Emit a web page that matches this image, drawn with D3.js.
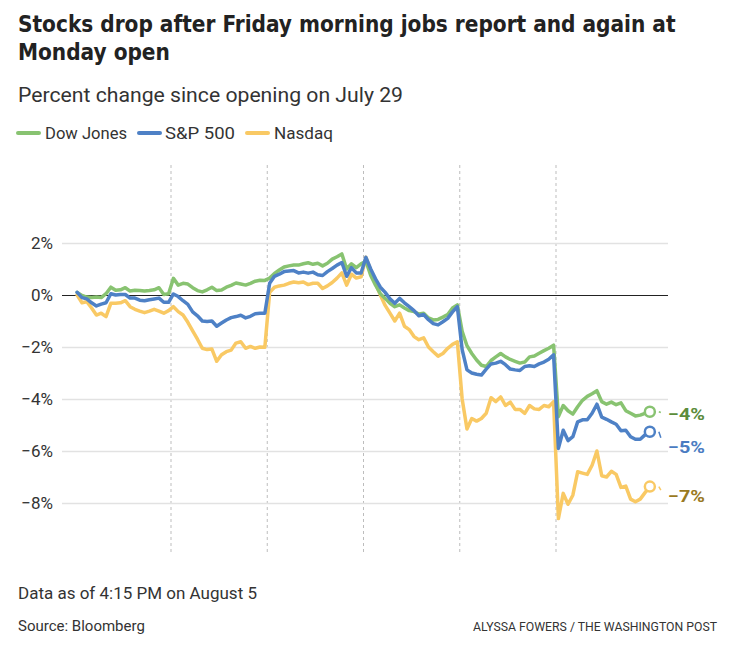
<!DOCTYPE html>
<html>
<head>
<meta charset="utf-8">
<script src="https://cdn.jsdelivr.net/npm/d3@7"></script>
<style>
  html, body { margin: 0; padding: 0; background: #fff; }
  svg { display: block; }
  text { font-family: Roboto, "Noto Sans", sans-serif; }
</style>
</head>
<body>
<svg id="chart" width="743" height="646"></svg>
<script>
// ---------------- data ----------------
const days = ["Jul 29", "Jul 30", "Jul 31", "Aug 1", "Aug 2", "Aug 5"];
const samplesPerDay = 20;

const dow = [
  0.1, -0.02, -0.08, -0.1, -0.08, -0.1, 0.05, 0.3, 0.18, 0.2, 0.28, 0.15, 0.18, 0.17, 0.15, 0.17, 0.2, 0.28, 0.02, 0.05,
  0.64, 0.38, 0.45, 0.42, 0.28, 0.17, 0.12, 0.2, 0.3, 0.17, 0.19, 0.3, 0.37, 0.46, 0.42, 0.38, 0.45, 0.53, 0.57, 0.56,
  0.65, 0.83, 0.96, 1.08, 1.12, 1.15, 1.15, 1.2, 1.24, 1.18, 1.22, 1.12, 1.22, 1.38, 1.47, 1.58, 1.0, 1.2, 1.05, 1.2,
  1.3, 0.75, 0.38, 0.05, -0.13, -0.32, -0.45, -0.38, -0.5, -0.6, -0.64, -0.73, -0.7, -0.88, -0.96, -0.94, -0.85, -0.75, -0.5, -0.38,
  -1.4, -1.95, -2.25, -2.5, -2.7, -2.75, -2.52, -2.38, -2.25, -2.38, -2.48, -2.55, -2.62, -2.58, -2.38, -2.35, -2.24, -2.14, -2.05, -1.93,
  -4.68, -4.25, -4.45, -4.58, -4.3, -4.05, -3.9, -3.8, -3.68, -4.1, -4.2, -4.12, -4.22, -4.15, -4.45, -4.55, -4.65, -4.62, -4.55, -4.49
];
const sp500 = [
  0.1, -0.1, -0.15, -0.3, -0.42, -0.35, -0.3, 0.05, 0.0, 0.02, 0.02, -0.12, -0.12, -0.2, -0.22, -0.18, -0.15, -0.12, -0.28, -0.28,
  0.04, -0.06, -0.22, -0.36, -0.65, -0.8, -1.0, -1.02, -1.0, -1.2, -1.08, -0.96, -0.87, -0.83, -0.78, -0.88, -0.82, -0.72, -0.7, -0.7,
  0.45, 0.72, 0.8, 0.9, 0.92, 0.94, 0.85, 0.88, 0.84, 0.88, 0.78, 0.75, 0.9, 1.02, 1.15, 1.25, 0.72, 1.05, 0.85, 0.85,
  1.45, 1.0, 0.62, 0.3, 0.1, -0.15, -0.32, -0.13, -0.3, -0.45, -0.6, -0.8, -0.75, -0.95, -1.1, -1.15, -1.03, -0.9, -0.65, -0.45,
  -2.1, -2.88, -3.0, -3.05, -3.08, -2.85, -2.65, -2.62, -2.55, -2.68, -2.85, -2.88, -2.9, -2.75, -2.72, -2.75, -2.65, -2.58, -2.47, -2.3,
  -5.9, -5.2, -5.6, -5.45, -4.88, -4.8, -4.8, -4.55, -4.2, -4.7, -4.78, -4.88, -4.97, -5.22, -5.2, -5.45, -5.55, -5.55, -5.38, -5.26
];
const nasdaq = [
  0.0, -0.3, -0.26, -0.5, -0.77, -0.7, -0.83, -0.32, -0.32, -0.3, -0.22, -0.45, -0.55, -0.62, -0.68, -0.62, -0.55, -0.62, -0.7, -0.6,
  -0.45, -0.64, -0.77, -1.05, -1.38, -1.7, -2.05, -2.1, -2.08, -2.55, -2.3, -2.18, -2.12, -1.85, -1.8, -2.05, -1.98, -2.05, -2.0, -2.01,
  0.1, 0.3, 0.35, 0.38, 0.45, 0.5, 0.47, 0.5, 0.4, 0.45, 0.45, 0.25, 0.35, 0.48, 0.65, 0.85, 0.38, 0.8, 0.65, 0.7,
  1.45, 0.95, 0.45, 0.0, -0.4, -0.7, -1.0, -0.7, -1.2, -1.33, -1.6, -1.72, -1.65, -2.0, -2.18, -2.35, -2.25, -2.05, -1.9, -1.8,
  -4.0, -5.15, -4.75, -4.85, -4.75, -4.55, -3.95, -4.1, -3.92, -4.25, -4.12, -4.4, -4.4, -4.55, -4.25, -4.38, -4.4, -4.25, -4.3, -4.1,
  -8.6, -7.63, -8.05, -7.7, -6.8, -6.85, -6.9, -6.55, -6.0, -6.95, -7.0, -6.78, -6.9, -7.4, -7.35, -7.85, -7.95, -7.85, -7.6, -7.37
];

const seriesNames = ["Dow Jones", "S&P 500", "Nasdaq"];
const endLabels = ["−4%", "−5%", "−7%"];
const yTicks = [2, 0, -2, -4, -6, -8];

// ---------------- styles ----------------
const lineColors = ["#88c371", "#4e81c6", "#f9c964"];
const labelColors = ["#5b8c3b", "#4a7cc2", "#9a7a1f"];
const labelOffsets = [2, 15, 9];

const svg = d3.select("#chart");

function fit(sel, w) {
  sel.each(function () {
    const cur = this.getComputedTextLength();
    if (Math.abs(cur - w) / w > 0.02) {
      d3.select(this).attr("textLength", w).attr("lengthAdjust", "spacingAndGlyphs");
    }
  });
  return sel;
}
// fit by scaling the font size instead of stretching glyphs
function fitSize(sel, w) {
  sel.each(function () {
    const cur = this.getComputedTextLength();
    const fs = +d3.select(this).attr("font-size");
    d3.select(this).attr("font-size", Math.min(fs * 1.08, fs * w / cur));
  });
  return sel;
}

// ---------------- header ----------------
const titleFont = "'Liberation Sans Narrow', 'DejaVu Sans Condensed', Roboto, sans-serif";
const t1 = svg.append("text").attr("x", 18).attr("y", 32)
  .style("font-family", titleFont).attr("font-weight", 700).attr("font-size", 25).attr("fill", "#222")
  .text("Stocks drop after Friday morning jobs report and again at")
  .call(fitSize, 658);
svg.append("text").attr("x", 18).attr("y", 60)
  .style("font-family", titleFont).attr("font-weight", 700).attr("font-size", t1.attr("font-size")).attr("fill", "#222")
  .text("Monday open");

svg.append("text").attr("x", 18).attr("y", 102)
  .attr("font-size", 20).attr("fill", "#333")
  .text("Percent change since opening on July 29")
  .call(fit, 385);

// legend
const legendItems = [
  { x: 18, tx: 45, w: 82 },
  { x: 139, tx: 165, w: 70 },
  { x: 247, tx: 274, w: 59 }
];
seriesNames.forEach((name, i) => {
  const it = legendItems[i];
  svg.append("line").attr("x1", it.x).attr("x2", it.x + 21).attr("y1", 133).attr("y2", 133)
    .attr("stroke", lineColors[i]).attr("stroke-width", 4).attr("stroke-linecap", "round");
  svg.append("text").attr("x", it.tx).attr("y", 139)
    .attr("font-size", 16).attr("fill", "#333").text(name).call(fit, it.w);
});

// ---------------- chart ----------------
const n = days.length * samplesPerDay;
const x = d3.scaleLinear().domain([0, n]).range([74.75, 652.25]);
const y = d3.scaleLinear().domain([-10, 5]).range([555, 165]);
const gridLeft = 62, gridRight = 668;

// grid + y axis
const yAxis = d3.axisLeft(y)
  .tickValues(yTicks)
  .tickSize(-(gridRight - gridLeft))
  .tickPadding(9)
  .tickFormat(d => (d < 0 ? "−" + Math.abs(d) : d) + "%");
const gy = svg.append("g").attr("transform", `translate(${gridLeft},0)`).call(yAxis);
gy.select(".domain").remove();
gy.selectAll(".tick line").attr("stroke", d => d === 0 ? "#222" : "#e2e2e2").attr("stroke-width", d => d === 0 ? 1.2 : 1.3);
gy.selectAll(".tick text").attr("font-size", 17).attr("fill", "#333")
  .style("font-family", "Roboto, sans-serif").attr("dy", "0.34em");
gy.selectAll(".tick").filter(d => d === 0).raise();

// day dividers
const dividers = d3.range(1, days.length).map(d => d * samplesPerDay);
svg.append("g").selectAll("line").data(dividers).join("line")
  .attr("x1", d => x(d)).attr("x2", d => x(d))
  .attr("y1", y(5)).attr("y2", y(-10))
  .attr("stroke", "#bdbdbd").attr("stroke-width", 1).attr("stroke-dasharray", "3,3");

gy.raise();

const series = [dow, sp500, nasdaq];
const drawOrder = [2, 0, 1];
const line = d3.line().x((d, i) => x(i + 0.5)).y(d => y(d));

drawOrder.forEach(i => {
  svg.append("path").datum(series[i])
    .attr("d", line).attr("fill", "none")
    .attr("stroke", lineColors[i]).attr("stroke-width", 3.5)
    .attr("stroke-linejoin", "round").attr("stroke-linecap", "round");
});

// end markers and labels
series.forEach((s, i) => {
  const last = s[s.length - 1];
  const ex = x(s.length - 0.5), ey = y(last);
  svg.append("line").attr("x1", ex + 9).attr("x2", ex + 11).attr("y1", ey).attr("y2", ey + labelOffsets[i] * 0.4)
    .attr("stroke", lineColors[i]).attr("stroke-width", 1.5);
  svg.append("circle").attr("cx", ex).attr("cy", ey).attr("r", 5)
    .attr("fill", "#fff").attr("stroke", lineColors[i]).attr("stroke-width", 2.5);
  svg.append("text").attr("x", 668).attr("y", ey + labelOffsets[i]).attr("dy", "0.35em")
    .attr("font-size", 17).attr("font-weight", 700).attr("fill", labelColors[i])
    .text(endLabels[i]).call(fit, 37);
});

// ---------------- footer ----------------
svg.append("text").attr("x", 18).attr("y", 599).attr("font-size", 17).attr("fill", "#333")
  .text("Data as of 4:15 PM on August 5").call(fit, 239);
svg.append("text").attr("x", 18).attr("y", 631).attr("font-size", 15).attr("fill", "#333")
  .text("Source: Bloomberg").call(fit, 128);
svg.append("text").attr("x", 717).attr("y", 631).attr("text-anchor", "end")
  .attr("font-size", 13).attr("fill", "#333")
  .text("ALYSSA FOWERS / THE WASHINGTON POST").call(fit, 244);
</script>
</body>
</html>
